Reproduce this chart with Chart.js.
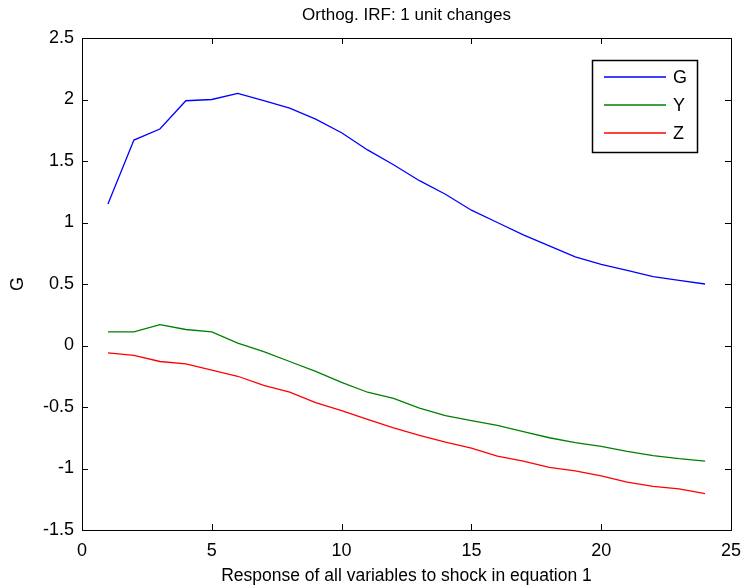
<!DOCTYPE html>
<html>
<head>
<meta charset="utf-8">
<script src="https://cdn.jsdelivr.net/npm/chart.js@4.4.0/dist/chart.umd.min.js"></script>
<style>
  html, body { margin: 0; padding: 0; background: #fff; }
  #wrap { width: 751px; height: 588px; }
</style>
</head>
<body>
<div id="wrap"><canvas id="irf"></canvas></div>
<script>
// periods after the shock
const periods = [1, 2, 3, 4, 5, 6, 7, 8, 9, 10, 11, 12, 13, 14, 15, 16, 17, 18, 19, 20, 21, 22, 23, 24];

// responses
const respG = [1.15, 1.67, 1.76, 1.99, 2.00, 2.05, 1.99, 1.93, 1.84, 1.73, 1.59, 1.47,
               1.34, 1.23, 1.10, 1.00, 0.90, 0.81, 0.72, 0.66, 0.61, 0.56, 0.53, 0.50];
const respY = [0.11, 0.11, 0.17, 0.13, 0.11, 0.02, -0.05, -0.13, -0.21, -0.30, -0.38, -0.43,
               -0.51, -0.57, -0.61, -0.65, -0.70, -0.75, -0.79, -0.82, -0.86, -0.895, -0.92, -0.94];
const respZ = [-0.06, -0.08, -0.13, -0.15, -0.20, -0.25, -0.325, -0.38, -0.465, -0.53, -0.60, -0.67,
               -0.73, -0.785, -0.835, -0.90, -0.94, -0.99, -1.02, -1.06, -1.11, -1.145, -1.165, -1.205];

const seriesNames = ['G', 'Y', 'Z'];
const seriesColors = ['#0000ff', '#008000', '#ff0000'];

const xTicks = [0, 5, 10, 15, 20, 25];
const yTicks = [-1.5, -1, -0.5, 0, 0.5, 1, 1.5, 2, 2.5];

const FONT = '"Liberation Sans", Arial, sans-serif';

function toPoints(vals) {
    return periods.map((p, i) => ({ x: p, y: vals[i] }));
}

// axes box with inward ticks on all four sides (matlab style)
const boxTicks = {
    id: 'boxTicks',
    afterDraw(chart) {
        const ctx = chart.ctx;
        const a = chart.chartArea;
        const sx = chart.scales.x, sy = chart.scales.y;
        const len = 6;
        ctx.save();
        ctx.strokeStyle = '#000';
        ctx.lineWidth = 1;
        ctx.strokeRect(Math.round(a.left) + 0.5, Math.round(a.top) + 0.5,
                       Math.round(a.right - a.left), Math.round(a.bottom - a.top));
        ctx.beginPath();
        xTicks.forEach(v => {
            const px = Math.round(sx.getPixelForValue(v)) + 0.5;
            ctx.moveTo(px, a.bottom); ctx.lineTo(px, a.bottom - len);
            ctx.moveTo(px, a.top); ctx.lineTo(px, a.top + len);
        });
        yTicks.forEach(v => {
            const py = Math.round(sy.getPixelForValue(v)) + 0.5;
            ctx.moveTo(a.left, py); ctx.lineTo(a.left + len, py);
            ctx.moveTo(a.right, py); ctx.lineTo(a.right - len, py);
        });
        ctx.stroke();
        ctx.restore();
    }
};

// legend box inside the axes, top right
const innerLegend = {
    id: 'innerLegend',
    afterDraw(chart) {
        const ctx = chart.ctx;
        const x0 = 592, y0 = 60, w = 105, h = 92;
        ctx.save();
        ctx.fillStyle = '#fff';
        ctx.fillRect(x0, y0, w, h);
        ctx.strokeStyle = '#000';
        ctx.lineWidth = 1.5;
        ctx.strokeRect(x0 + 0.5, y0 + 0.5, w, h);
        ctx.font = '18px ' + FONT;
        ctx.textBaseline = 'middle';
        chart.data.datasets.forEach((ds, i) => {
            const y = y0 + 17 + i * 28;
            ctx.strokeStyle = ds.borderColor;
            ctx.lineWidth = 1.3;
            ctx.beginPath();
            ctx.moveTo(x0 + 12, y); ctx.lineTo(x0 + 74, y);
            ctx.stroke();
            ctx.fillStyle = '#000';
            ctx.fillText(ds.label, x0 + 81, y + 1);
        });
        ctx.restore();
    }
};

new Chart(document.getElementById('irf'), {
    type: 'line',
    data: {
        datasets: [respG, respY, respZ].map((vals, i) => ({
            label: seriesNames[i],
            data: toPoints(vals),
            borderColor: seriesColors[i],
            backgroundColor: seriesColors[i],
            borderWidth: 1.3,
            pointRadius: 0,
            tension: 0,
            fill: false
        }))
    },
    options: {
        responsive: true,
        maintainAspectRatio: false,
        animation: false,
        events: [],
        layout: { padding: { left: 0, right: 11, top: 0, bottom: 0 } },
        plugins: {
            legend: { display: false },
            tooltip: { enabled: false },
            title: {
                display: true,
                fullSize: false,
                text: 'Orthog. IRF: 1 unit changes',
                color: '#000',
                font: { family: FONT, size: 17, weight: 'normal', lineHeight: 1.2 },
                padding: { top: 5, bottom: 12.6 }
            }
        },
        scales: {
            x: {
                type: 'linear',
                min: 0, max: 25,
                afterBuildTicks(scale) { scale.ticks = xTicks.map(v => ({ value: v })); },
                afterFit(scale) { scale.height = 58; },
                grid: { display: false, drawTicks: false },
                border: { display: false },
                ticks: {
                    color: '#000', padding: 10,
                    font: { family: FONT, size: 18 },
                    callback: v => String(v)
                },
                title: {
                    display: true,
                    text: 'Response of all variables to shock in equation 1',
                    color: '#000',
                    font: { family: FONT, size: 17.5, lineHeight: 1.2 },
                    padding: { top: 0, bottom: 1 }
                }
            },
            y: {
                min: -1.5, max: 2.5,
                afterBuildTicks(scale) { scale.ticks = yTicks.map(v => ({ value: v })); },
                afterFit(scale) { scale.width = 82; },
                grid: { display: false, drawTicks: false },
                border: { display: false },
                ticks: {
                    color: '#000', padding: 8,
                    font: { family: FONT, size: 18 },
                    callback: v => String(v)
                },
                title: {
                    display: true,
                    text: 'G',
                    color: '#000',
                    font: { family: FONT, size: 18, lineHeight: 1.2 },
                    padding: { top: 7, bottom: 0 }
                }
            }
        }
    },
    plugins: [boxTicks, innerLegend]
});
</script>
</body>
</html>
